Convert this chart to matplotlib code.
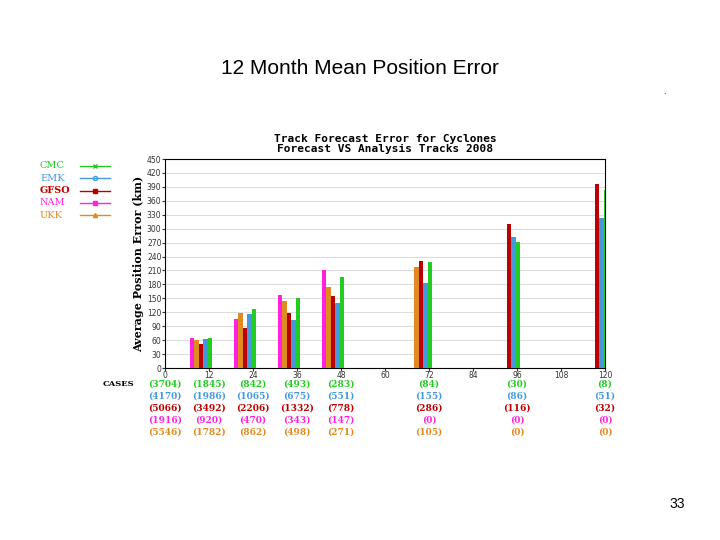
import numpy as np
import matplotlib
matplotlib.use("Agg")
import matplotlib.pyplot as plt
from matplotlib.lines import Line2D

# data
models = ["CMC", "EMK", "GFSO", "NAM", "UKK"]
colors = {"CMC": "#22cc22", "EMK": "#4499dd", "GFSO": "#bb0000",
          "NAM": "#ff22dd", "UKK": "#e08a20"}
markers = {"CMC": "x", "EMK": "o", "GFSO": "s", "NAM": "s", "UKK": "^"}
hours = [12, 24, 36, 48, 72, 96, 120]
errors = {
    "NAM":  [65, 106, 158, 210, 0, 0, 0],
    "UKK":  [61, 119, 145, 175, 218, 0, 0],
    "GFSO": [52, 87, 119, 154, 231, 311, 397],
    "EMK":  [63, 117, 104, 141, 182, 281, 322],
    "CMC":  [65, 128, 151, 197, 229, 271, 384],
}
case_hours = [0, 12, 24, 36, 48, 72, 96, 120]
cases = {
    "CMC":  [3704, 1845, 842, 493, 283, 84, 30, 8],
    "EMK":  [4170, 1986, 1065, 675, 551, 155, 86, 51],
    "GFSO": [5066, 3492, 2206, 1332, 778, 286, 116, 32],
    "NAM":  [1916, 920, 470, 343, 147, 0, 0, 0],
    "UKK":  [5546, 1782, 862, 498, 271, 105, 0, 0],
}
bar_order = ["NAM", "UKK", "GFSO", "EMK", "CMC"]

fig = plt.figure(figsize=(7.2, 5.4), dpi=100)
fig.text(0.5, 0.873, "12 Month Mean Position Error", ha="center", va="center",
         fontsize=15, family="Liberation Sans")
fig.text(0.94, 0.067, "33", ha="center", va="center", fontsize=10,
         family="Liberation Sans")
fig.text(0.921, 0.825, ".", fontsize=6)

ax = fig.add_axes([165 / 720, 1 - 368 / 540, 440 / 720, 209 / 540])
w = 1.2
offsets = [-4.6, -3.4, -2.2, -1.0, 0.2]
x = np.array(hours, dtype=float)
for m, off in zip(bar_order, offsets):
    ax.bar(x + off, errors[m], width=w, color=colors[m], zorder=3)
ax.set_xlim(0, 120)
ax.set_ylim(0, 450)
ax.set_xticks(range(0, 121, 12))
ax.set_yticks(range(0, 451, 30))
ax.tick_params(labelsize=5.5, length=2, pad=0.5, colors="#333333")
ax.yaxis.grid(True, color="#dddddd", lw=0.8, zorder=0)
ax.set_ylabel("Average Position Error (km)", fontsize=8, family="DejaVu Serif",
              fontweight="bold", labelpad=2)
ax.set_title("Track Forecast Error for Cyclones\nForecast VS Analysis Tracks 2008",
             fontsize=8, family="DejaVu Sans Mono", fontweight="bold", pad=5,
             linespacing=1.0)

# case counts under the axis
row_y = [384, 396, 408, 420, 432]
fig.text(118 / 720, 1 - row_y[0] / 540, "CASES", fontsize=6, fontweight="bold",
         family="DejaVu Serif", ha="center", va="center")
for m, ry in zip(models, row_y):
    for h, c in zip(case_hours, cases[m]):
        xf = (165 + h / 120 * 440) / 720
        fig.text(xf, 1 - ry / 540, f"({c})", color=colors[m], fontsize=6.5,
                 fontweight="bold", family="DejaVu Serif", ha="center", va="center")

# legend at top left
for i, m in enumerate(models):
    yf = 1 - (166 + i * 12.3) / 540
    fig.text(40 / 720, yf, m, color=colors[m], fontsize=7, family="DejaVu Serif",
             fontweight="bold" if m == "GFSO" else "normal", va="center")
    fig.add_artist(Line2D([80 / 720, 110 / 720], [yf, yf], color=colors[m], lw=1,
                          transform=fig.transFigure))
    fig.add_artist(Line2D([95 / 720], [yf], color=colors[m], marker=markers[m],
                          markersize=3, mfc="none" if m == "EMK" else colors[m],
                          transform=fig.transFigure))

fig.savefig("out.png", dpi=100)
